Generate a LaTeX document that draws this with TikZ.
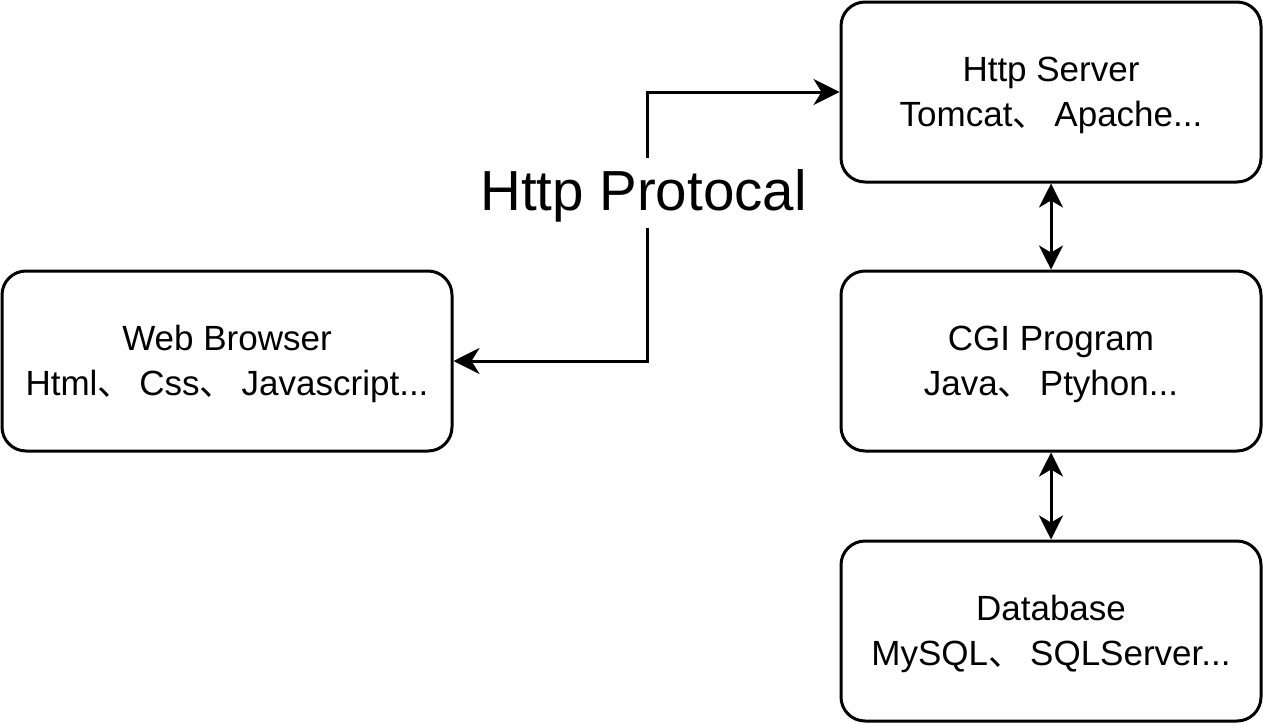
\documentclass[tikz,border=0pt]{standalone}
\usepackage{fontspec}
\setmainfont{Liberation Sans}
\newfontfamily\cjk{Noto Sans CJK SC}
\usetikzlibrary{arrows.meta}
\newcommand{\dun}{{\cjk 、}\kern7pt\relax}
\begin{document}
\begin{tikzpicture}[x=1pt,y=-1pt,
  box/.style={draw, line width=3pt, rounded corners=24pt, minimum width=#1, minimum height=180pt, inner sep=0pt},
  txt/.style={inner sep=0pt, anchor=base, font=\fontsize{35}{45}\selectfont},
  conn/.style={line width=3pt, {Stealth[length=26pt,width=26pt,inset=8pt]}-{Stealth[length=26pt,width=26pt,inset=8pt]}},
  vconn/.style={line width=3pt, {Stealth[length=24pt,width=24pt,inset=7pt]}-{Stealth[length=24pt,width=24pt,inset=7pt]}}
]
\useasboundingbox[fill=white] (0,0) rectangle (1263,723);

\node[box=450pt] (wb) at (227,361) {};
\node[box=420pt] (hs) at (1051,92) {};
\node[box=420pt] (cgi) at (1051,361) {};
\node[box=420pt] (db) at (1051,631) {};

\node[txt] (wb1) at ([yshift=10.5pt]wb.center) {Web Browser};
\node[txt] (wb2) at ([yshift=-34.5pt]wb.center) {Html\dun Css\dun Javascript...};
\node[txt] (hs1) at ([yshift=10.5pt]hs.center) {Http Server};
\node[txt] (hs2) at ([yshift=-34.5pt]hs.center) {Tomcat\dun Apache...};
\node[txt] (cgi1) at ([yshift=10.5pt]cgi.center) {CGI Program};
\node[txt] (cgi2) at ([yshift=-34.5pt]cgi.center) {Java\dun Ptyhon...};
\node[txt] (db1) at ([yshift=10.5pt]db.center) {Database};
\node[txt] (db2) at ([yshift=-34.5pt]db.center) {MySQL\dun SQLServer...};

\coordinate (bend) at (647,210);
\draw[conn] (wb.east) -| (bend) |- (hs.west);
\node[fill=white, inner sep=0pt, text height=52pt, text depth=18pt, anchor=base, font=\fontsize{56.5}{60}\selectfont] (lbl) at ([xshift=-3.5pt]bend) {Http Protocal};

\draw[vconn] (hs.south) -- (cgi.north);
\draw[vconn] (cgi.south) -- (db.north);
\end{tikzpicture}
\end{document}
